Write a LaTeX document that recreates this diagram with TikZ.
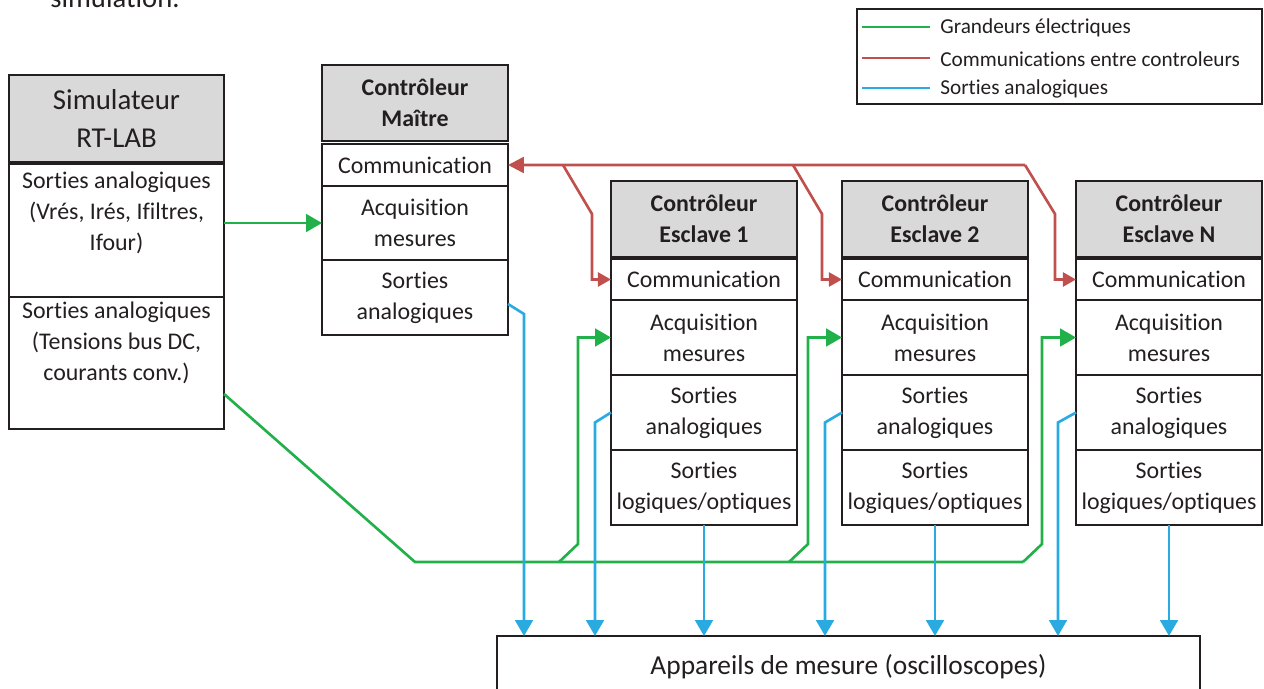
\documentclass[tikz,border=0pt]{standalone}
\usepackage{fontspec}
\setmainfont{Carlito}[Ligatures={NoCommon,NoContextual}, Contextuals=NoAlternate]
\usetikzlibrary{arrows.meta, positioning}
\definecolor{headGray}{HTML}{D9D9D9}
\definecolor{lineDark}{HTML}{231F20}
\definecolor{elecGreen}{HTML}{22B04B}
\definecolor{commRed}{HTML}{C0504D}
\definecolor{anaBlue}{HTML}{29ABE2}
\newcommand{\pxu}{0.02cm}

\begin{document}
\begin{tikzpicture}[
          x=0.02cm, y=-0.02cm,
          cell/.style={draw=lineDark, line width=1.1pt, outer sep=0pt, inner sep=0pt, align=center, text=lineDark, font=\fontsize{13.6}{17.6}\selectfont},
          head/.style={cell, fill=headGray, minimum height=76*\pxu, font=\fontsize{13.6}{17.6}\selectfont\bfseries},
          ctrl/.style={minimum width=186*\pxu},
          simw/.style={minimum width=215*\pxu},
          toptxt/.style={anchor=north, align=center, inner sep=0pt, text=lineDark, font=\fontsize{13.6}{17.6}\selectfont},
          legtxt/.style={anchor=west, inner sep=0pt, text=lineDark, font=\fontsize{12.1}{14}\selectfont},
          elec/.style={draw=elecGreen, line width=1.5pt},
          elecArr/.style={elec, -{Triangle[length=9pt, width=10pt]}},
          comm/.style={draw=commRed, line width=1.5pt},
          commArr/.style={comm, -{Triangle[length=7.5pt, width=8pt]}},
          ana/.style={draw=anaBlue, line width=1.5pt},
          anaArr/.style={ana, -{Triangle[length=9pt, width=10pt]}}
        ]
        \useasboundingbox (0,0) rectangle (1264,689);
        \node[anchor=base west, inner sep=0pt, text=lineDark, font=\fontsize{16.3}{20}\selectfont] (cap) at (50,8) {simulation.};

        % legende
        \node[draw=lineDark, line width=0.9pt, inner sep=0pt, minimum width=405*\pxu, minimum height=95*\pxu, anchor=north west] (legend) at (856,8) {};
        \draw[elec] (862,27) -- (930,27);
        \draw[comm] (862,58) -- (930,58);
        \draw[ana] (862,88) -- (930,88);
        \node[legtxt] (legG) at (940,28) {Grandeurs électriques};
        \node[legtxt] (legR) at (940,59) {Communications entre controleurs};
        \node[legtxt] (legB) at (940,89) {Sorties analogiques};

        % simulateur
        \node[cell, simw, fill=headGray, minimum height=87*\pxu, anchor=north west, font=\fontsize{16.4}{21.5}\selectfont, text depth=-0.1cm] (simHead) at (9,75) {Simulateur\\RT-LAB};
        \node[cell, simw, minimum height=133*\pxu, below=0.04cm of simHead,
          label={[toptxt, yshift=-0.16cm]north:Sorties analogiques\\(Vrés, Irés, Ifiltres,\\Ifour)}] (simA) {};
        \node[cell, simw, minimum height=132*\pxu, below=0pt of simA,
          label={[toptxt, yshift=-0.1cm]north:Sorties analogiques\\(Tensions bus DC,\\courants conv.)}] (simB) {};

        % controleur maitre
        \node[head, ctrl, anchor=north west] (mHead) at (322,65) {Contrôleur\\Maître};
        \node[cell, ctrl, minimum height=42*\pxu, below=0.06cm of mHead] (mComm) {Communication};
        \node[cell, ctrl, minimum height=74*\pxu, below=0pt of mComm] (mAcq) {Acquisition\\mesures};
        \node[cell, ctrl, minimum height=75*\pxu, below=0pt of mAcq] (mSort) {Sorties\\analogiques};

        % esclave 1
        \node[head, ctrl, anchor=north west] (s1Head) at (611,181) {Contrôleur\\Esclave 1};
        \node[cell, ctrl, minimum height=41*\pxu, below=0.04cm of s1Head] (s1Comm) {Communication};
        \node[cell, ctrl, minimum height=75*\pxu, below=0pt of s1Comm] (s1Acq) {Acquisition\\mesures};
        \node[cell, ctrl, minimum height=75*\pxu, below=0pt of s1Acq] (s1Sa) {Sorties\\analogiques};
        \node[cell, ctrl, minimum height=75*\pxu, below=0pt of s1Sa] (s1Sl) {Sorties\\logiques/optiques};

        % esclave 2
        \node[head, ctrl, anchor=north west] (s2Head) at (842,181) {Contrôleur\\Esclave 2};
        \node[cell, ctrl, minimum height=41*\pxu, below=0.04cm of s2Head] (s2Comm) {Communication};
        \node[cell, ctrl, minimum height=75*\pxu, below=0pt of s2Comm] (s2Acq) {Acquisition\\mesures};
        \node[cell, ctrl, minimum height=75*\pxu, below=0pt of s2Acq] (s2Sa) {Sorties\\analogiques};
        \node[cell, ctrl, minimum height=75*\pxu, below=0pt of s2Sa] (s2Sl) {Sorties\\logiques/optiques};

        % esclave N
        \node[head, ctrl, anchor=north west] (sNHead) at (1076,181) {Contrôleur\\Esclave N};
        \node[cell, ctrl, minimum height=41*\pxu, below=0.04cm of sNHead] (sNComm) {Communication};
        \node[cell, ctrl, minimum height=75*\pxu, below=0pt of sNComm] (sNAcq) {Acquisition\\mesures};
        \node[cell, ctrl, minimum height=75*\pxu, below=0pt of sNAcq] (sNSa) {Sorties\\analogiques};
        \node[cell, ctrl, minimum height=75*\pxu, below=0pt of sNSa] (sNSl) {Sorties\\logiques/optiques};

        % appareils de mesure
        \node[cell, minimum width=703*\pxu, minimum height=62*\pxu, anchor=north west, font=\fontsize{15.6}{18}\selectfont] (meas) at (497,636) {Appareils de mesure (oscilloscopes)};

        % grandeurs electriques
        \coordinate (bus1) at (559,562);
        \coordinate (bus2) at (789,562);
        \coordinate (bus3) at (1023,562);
        \draw[elecArr] (simA.east |- mAcq.west) -- (mAcq.west);
        \draw[elec] ([yshift=-0.62cm]simB.east) -- (415,562) -- (bus3);
        \draw[elecArr] (bus1) -- ++(19,-18) |- (s1Acq.west);
        \draw[elecArr] (bus2) -- ++(19,-18) |- (s2Acq.west);
        \draw[elecArr] (bus3) -- ++(19,-18) |- (sNAcq.west);

        % communications
        \coordinate (r1) at (563,165);
        \coordinate (r2) at (793,165);
        \coordinate (r3) at (1025,165);
        \draw[comm, -{Triangle[length=9pt, width=9pt]}] (r3) -- (mComm.east);
        \draw[commArr] (r1) -- ++(29,49) |- (s1Comm.west);
        \draw[commArr] (r2) -- ++(29,49) |- (s2Comm.west);
        \draw[commArr] (r3) -- ++(30,49) |- (sNComm.west);

        % sorties analogiques
        \draw[anaArr] ([yshift=-0.13cm]mSort.east) -- ++(16,10) coordinate (bM) -- (bM |- meas.north);
        \draw[anaArr] (s1Sa.west) -- ++(-16,10) coordinate (b1) -- (b1 |- meas.north);
        \draw[anaArr] (s2Sa.west) -- ++(-17,10) coordinate (b2) -- (b2 |- meas.north);
        \draw[anaArr] (sNSa.west) -- ++(-18,10) coordinate (bN) -- (bN |- meas.north);
        \draw[anaArr] (s1Sl.south) -- (s1Sl.south |- meas.north);
        \draw[anaArr] (s2Sl.south) -- (s2Sl.south |- meas.north);
        \draw[anaArr] (sNSl.south) -- (sNSl.south |- meas.north);
      \end{tikzpicture}
\end{document}
